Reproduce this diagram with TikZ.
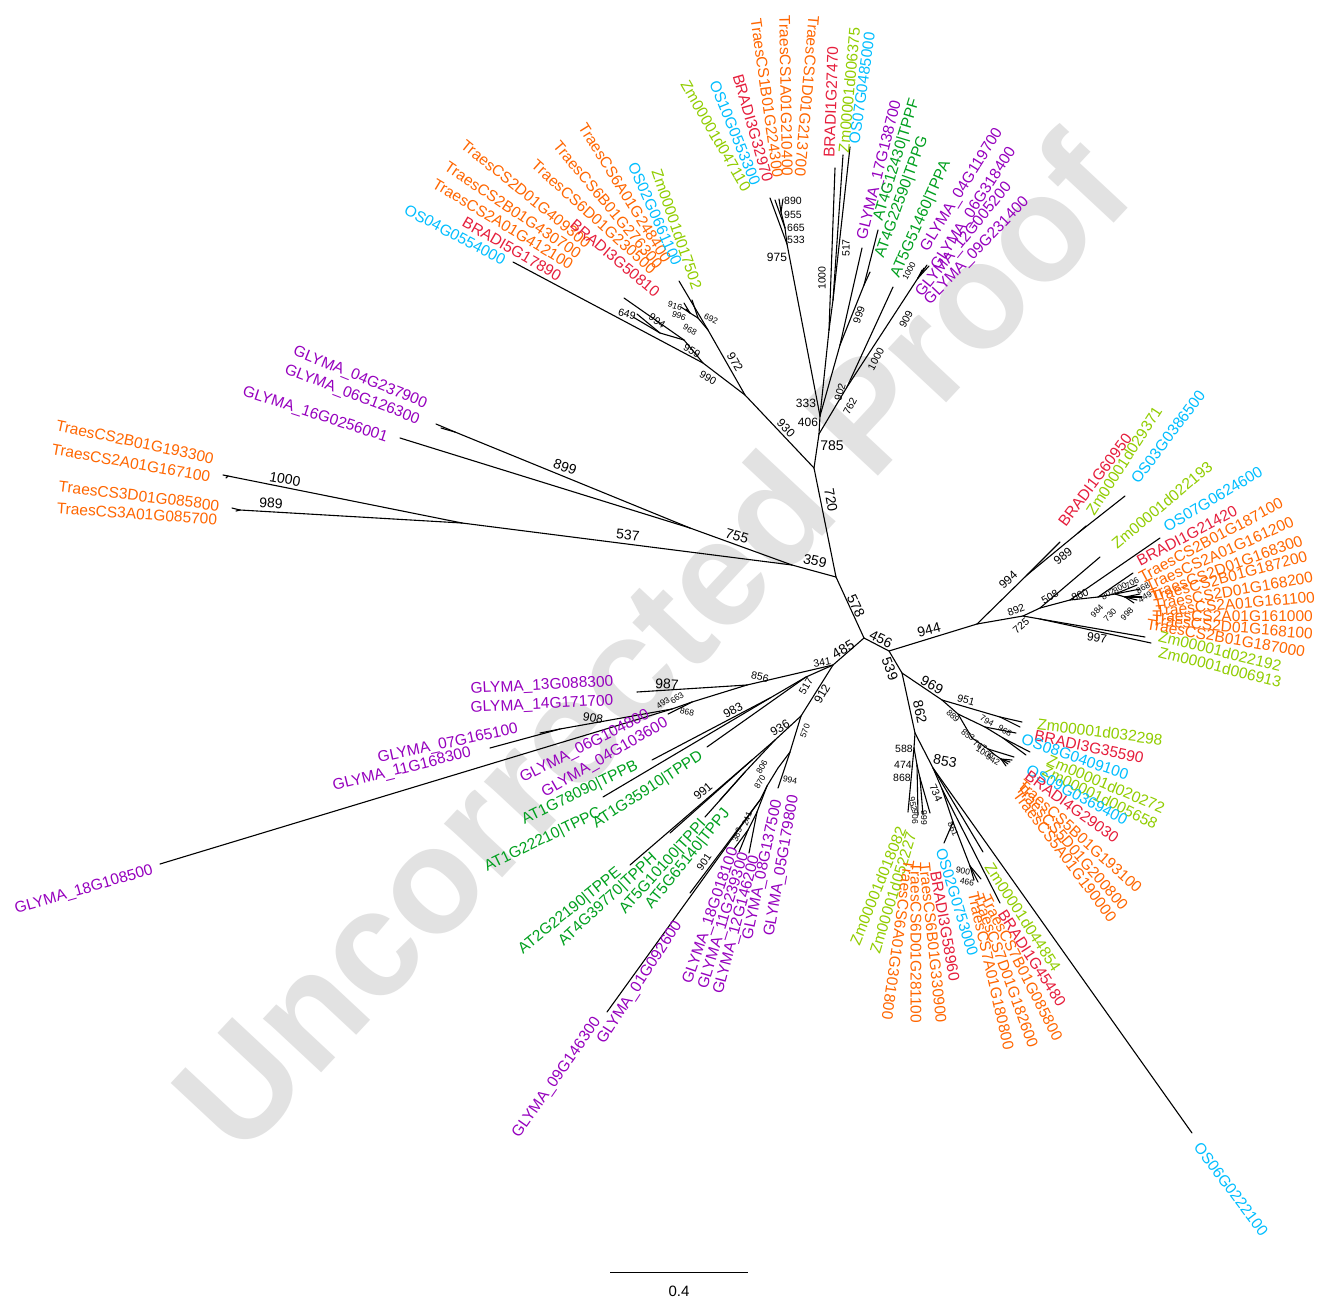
\documentclass[tikz,border=0pt]{standalone}
\usepackage{fontspec}
\setmainfont{Liberation Sans}
\definecolor{cTr}{RGB}{255,102,0}
\definecolor{cBr}{RGB}{230,30,60}
\definecolor{cOs}{RGB}{0,190,255}
\definecolor{cZm}{RGB}{145,205,0}
\definecolor{cAt}{RGB}{0,160,30}
\definecolor{cGm}{RGB}{150,0,190}
\definecolor{cWm}{RGB}{226,226,226}
\newcommand\TCn[3]{\coordinate (#1) at (#2,#3);}
\newcommand\TLb[6]{\node[lab,text=#5,rotate=#4] (#1) at (#2,#3) {#6};}
\newcommand\TLbE[5]{\node[lab,text=cTr,rotate=#4,anchor=east] (#1) at (#2,#3) {#5};}
\newcommand\TBs[6]{\node[#5,rotate=#4] (#1) at (#2,#3) {#6};}
\begin{document}
\begin{tikzpicture}[x=1pt,y=-1pt,
  lab/.style={inner sep=0pt,font=\fontsize{15.5}{15.5}\selectfont},
  bL/.style={inner sep=0pt,font=\fontsize{14}{14}\selectfont},
  bM/.style={inner sep=0pt,font=\fontsize{12}{12}\selectfont},
  bS/.style={inner sep=0pt,font=\fontsize{10.5}{10.5}\selectfont},
  bT/.style={inner sep=0pt,font=\fontsize{8.5}{8.5}\selectfont},
  br/.style={line width=1.1pt,line cap=round},
  wm/.style={inner sep=0pt,text=cWm,font=\fontsize{150}{150}\selectfont\bfseries}]
\fill[white] (0,0) rectangle (1318,1299);
\useasboundingbox (0,0) rectangle (1318,1299);
\node[wm,rotate=47] (wmk) at (650,642) {Uncorrected Proof};
% ---------- coordinates ----------
\TCn{A}{864}{638}\TCn{B}{836}{577}\TCn{C}{814}{468}\TCn{D}{819}{434}\TCn{E}{820}{416}
\TCn{F}{745}{395}\TCn{n456}{889}{651}\TCn{n944}{977}{624}\TCn{n539}{902}{673}\TCn{n485}{833}{665}
% top-left
\TCn{n990}{703}{363}\TCn{n959}{684}{340}\TCn{tOS04}{513}{262}\TCn{tTL1}{624}{298}
\TCn{n994a}{660}{333}\TCn{tTL2}{633}{317}\TCn{tTL3}{637}{314}
\TCn{n972}{708}{330}\TCn{tZm175}{679}{281}\TCn{n968a}{698}{318}\TCn{tOS026}{692}{300}
\TCn{n996}{690}{313}\TCn{tTL4}{684}{303}\TCn{tTL5}{681}{307}\TCn{tTL6}{686}{309}
% top
\TCn{n975}{787}{244}\TCn{tT1}{770}{198}\TCn{n665}{785}{228}\TCn{tT2}{775}{200}
\TCn{n890}{781}{212}\TCn{tT3}{779}{199}\TCn{tT4}{783}{199}
\TCn{n1000a}{829}{330}\TCn{tBR1a}{835}{168}\TCn{n517a}{833}{300}\TCn{tZm063}{843}{155}\TCn{tOS074}{850}{147}
\TCn{n902}{840}{345}\TCn{tG17}{862}{248}\TCn{n999}{864}{285}\TCn{tTPPF}{878}{230}\TCn{tTPPG}{870}{272}
\TCn{n762}{847}{387}\TCn{tTPPA}{893}{287}\TCn{n909}{918}{278}
\TCn{tw1}{924}{268}\TCn{tw2}{927}{265}\TCn{tw3}{922}{270}\TCn{tw4}{929}{266}
% left
\TCn{n359}{792}{565}\TCn{n755}{690}{528}\TCn{n899}{455}{432}\TCn{tG04}{436}{424}\TCn{tG06}{441}{428}\TCn{tG16}{400}{438}
\TCn{n537}{462}{523}\TCn{n1000b}{228}{476}\TCn{tTr2B}{223}{475}\TCn{tTr2A}{226}{478}
\TCn{n989b}{240}{510}\TCn{tTr3D}{232}{508}\TCn{tTr3A}{236}{511}
% lower-left
\TCn{n856}{747}{685}\TCn{n663}{692}{702}\TCn{n493}{672}{709}\TCn{t13}{637}{692}\TCn{t18}{160}{864}
\TCn{n908}{560}{729}\TCn{t07}{540}{733}\TCn{t11}{490}{748}\TCn{t0604}{668}{714}
\TCn{n517b}{806}{677}\TCn{n983}{770}{698}\TCn{tTPPB}{652}{760}\TCn{tTPPC}{603}{797}\TCn{tTPPD}{707}{747}
\TCn{n912}{801}{716}\TCn{n936}{775}{740}\TCn{n991}{752}{760}\TCn{tTPPE}{630}{865}\TCn{tTPPH}{670}{833}
\TCn{nIJ}{745}{772}\TCn{tTPPI}{705}{817}\TCn{tTPPJ}{720}{800}
\TCn{n570}{790}{752}\TCn{t0805}{778}{788}\TCn{n806}{778}{768}\TCn{n870}{767}{786}\TCn{n241}{757}{812}
\TCn{n383}{748}{830}\TCn{tGa}{734}{849}\TCn{tGb}{739}{852}\TCn{tGc}{749}{853}
\TCn{n901}{760}{800}\TCn{t09}{607}{1012}\TCn{t01}{690}{893}
% right
\TCn{n994c}{1027}{575}\TCn{tBR609}{1060}{542}\TCn{n989c}{1078}{533}\TCn{tZm293}{1086}{526}\TCn{tOS038}{1125}{496}
\TCn{n892}{1023}{616}\TCn{n997}{1040}{619}\TCn{tZm2192}{1145}{637}\TCn{tZm6913}{1151}{643}
\TCn{n508}{1040}{608}\TCn{tZm2193}{1100}{557}\TCn{n860}{1070}{600}\TCn{tOS076}{1160}{538}
\TCn{n802}{1098}{597}\TCn{tBR214}{1133}{573}\TCn{n800}{1115}{594}\TCn{tq1}{1137}{585}\TCn{tq2}{1140}{589}
\TCn{n706}{1125}{597}\TCn{tq3}{1140}{594}\TCn{tq4}{1137}{600}\TCn{tq5}{1134}{603}\TCn{tq6}{1142}{597}
% lower-right
\TCn{n969}{942}{700}\TCn{n951}{1000}{717}\TCn{tZm322}{1022}{722}\TCn{tBR355}{1020}{727}
\TCn{n889}{958}{714}\TCn{n794}{985}{727}\TCn{tOS08}{1016}{733}\TCn{n968c}{1003}{738}\TCn{tZm202}{1030}{752}\TCn{tZm056}{1026}{755}
\TCn{n853c}{972}{738}\TCn{n767}{988}{749}\TCn{tOS09}{1014}{757}\TCn{n1000c}{995}{755}\TCn{n942}{1001}{759}
\TCn{tBR4}{1012}{760}\TCn{tT5B}{1010}{762}\TCn{tT5D}{1008}{764}\TCn{tT5A}{1006}{766}
\TCn{n862}{915}{733}\TCn{n588}{914}{748}\TCn{tA6}{908}{812}\TCn{n474}{917}{765}\TCn{tB6}{918}{815}
\TCn{n868c}{920}{778}\TCn{tC6}{923}{815}\TCn{tD6}{930}{813}
\TCn{n853}{933}{768}\TCn{tOS06}{1192}{1133}\TCn{tZm448}{983}{852}\TCn{n734}{942}{789}\TCn{tBR454}{1000}{903}
\TCn{n861}{953}{822}\TCn{n900}{970}{866}\TCn{tT7A}{974}{880}\TCn{tT7D}{978}{882}\TCn{tT7B}{981}{879}\TCn{tOS02}{944}{843}
% scale bar
\TCn{sb1}{610}{1272}\TCn{sb2}{748}{1272}
% ---------- branches ----------
\foreach \a/\b in {A/B,B/C,C/D,D/E,C/F,A/n456,n456/n944,n456/n539,A/n485,
 F/n990,n990/tOS04,n990/n959,n959/tTL1,n959/n994a,n994a/tTL2,n994a/tTL3,
 F/n972,n972/tZm175,n972/n968a,n968a/tOS026,n968a/n996,n996/tTL4,n996/tTL5,n996/tTL6,
 E/n975,n975/tT1,n975/n665,n665/tT2,n665/n890,n890/tT3,n890/tT4,
 E/n1000a,n1000a/tBR1a,n1000a/n517a,n517a/tZm063,n517a/tOS074,
 E/n902,n902/tG17,n902/n999,n999/tTPPF,n999/tTPPG,
 D/n762,n762/tTPPA,n762/n909,n909/tw1,n909/tw2,n909/tw3,n909/tw4,
 B/n359,n359/n755,n755/n899,n899/tG04,n899/tG06,n755/tG16,n359/n537,n537/n1000b,n1000b/tTr2B,n1000b/tTr2A,n537/n989b,n989b/tTr3D,n989b/tTr3A,
 n485/n856,n856/t13,n856/n663,n663/n493,n493/t18,n493/n908,n908/t07,n908/t11,n663/t0604,
 n485/n517b,n517b/n983,n983/tTPPB,n983/tTPPC,n517b/tTPPD,
 n485/n912,n912/n936,n936/n991,n991/tTPPE,n991/tTPPH,n936/nIJ,nIJ/tTPPI,nIJ/tTPPJ,
 n912/n570,n570/t0805,n570/n806,n806/n870,n870/n241,n241/n383,n383/tGa,n383/tGb,n241/tGc,n870/n901,n901/t09,n901/t01,
 n944/n994c,n994c/tBR609,n994c/n989c,n989c/tZm293,n989c/tOS038,
 n944/n892,n892/n997,n997/tZm2192,n997/tZm6913,n892/n508,n508/tZm2193,n508/n860,n860/tOS076,n860/n802,n802/tBR214,n802/n800,n800/tq1,n800/tq2,n800/n706,n706/tq3,n706/tq4,n706/tq5,n706/tq6,
 n539/n969,n969/n951,n951/tZm322,n951/tBR355,n969/n889,n889/n794,n794/tOS08,n794/n968c,n968c/tZm202,n968c/tZm056,n889/n853c,n853c/n767,n767/tOS09,n767/n1000c,n1000c/n942,n942/tBR4,n942/tT5B,n942/tT5D,n942/tT5A,
 n539/n862,n862/n588,n588/tA6,n588/n474,n474/tB6,n474/n868c,n868c/tC6,n868c/tD6,
 n862/n853,n853/tOS06,n853/tZm448,n853/n734,n734/tBR454,n734/n861,n861/n900,n900/tT7A,n900/tT7D,n900/tT7B,n861/tOS02}
 \draw[br] (\a) -- (\b);
\draw[line width=1pt] (sb1) -- (sb2);
\node[inner sep=0pt,font=\fontsize{15}{15}\selectfont] (sbl) at (679,1291) {0.4};
% ---------- tip labels ----------
\TLb{l1}{455}{235}{-28}{cOs}{OS04G0554000}
\TLb{l2}{512}{249}{-30}{cBr}{BRADI5G17890}
\TLb{l3}{503}{224}{-31}{cTr}{TraesCS2A01G412100}
\TLb{l4}{513}{210}{-34}{cTr}{TraesCS2B01G430700}
\TLb{l5}{526}{194}{-39}{cTr}{TraesCS2D01G409300}
\TLb{l6}{594}{217}{-42}{cTr}{TraesCS6D01G230500}
\TLb{l7}{615}{258}{-40}{cBr}{BRADI3G50810}
\TLb{l8}{608}{205}{-50}{cTr}{TraesCS6B01G276300}
\TLb{l9}{625}{193}{-58}{cTr}{TraesCS6A01G248400}
\TLb{l10}{655}{214}{-66}{cOs}{OS02G0661100}
\TLb{l11}{677}{229}{-71}{cZm}{Zm00001d017502}
\TLb{l12}{716}{136}{-60}{cZm}{Zm00001d047110}
\TLb{l13}{735}{133}{-68}{cOs}{OS10G0553300}
\TLb{l14}{753}{128}{-74}{cBr}{BRADI3G32970}
\TLb{l15}{767}{98}{-82}{cTr}{TraesCS1B01G224300}
\TLb{l16}{786}{96}{-89}{cTr}{TraesCS1A01G210400}
\TLb{l17}{807}{96}{-95}{cTr}{TraesCS1D01G213700}
\TLb{l18}{831}{102}{88}{cBr}{BRADI1G27470}
\TLb{l19}{849}{90}{85}{cZm}{Zm00001d006375}
\TLb{l20}{862}{88}{82}{cOs}{OS07G0485000}
\TLb{l21}{880}{170}{76}{cGm}{GLYMA\_17G138700}
\TLb{l22}{897}{160}{73}{cAt}{AT4G12430|TPPF}
\TLb{l23}{902}{197}{70}{cAt}{AT4G22590|TPPG}
\TLb{l24}{921}{219}{66}{cAt}{AT5G51460|TPPA}
\TLb{l25}{962}{190}{58}{cGm}{GLYMA\_04G119700}
\TLb{l26}{974}{209}{57}{cGm}{GLYMA\_06G318400}
\TLb{l27}{964}{240}{51}{cGm}{GLYMA\_12G005200}
\TLb{l28}{977}{251}{46}{cGm}{GLYMA\_09G231400}
\TLb{l29}{360}{378}{-22}{cGm}{GLYMA\_04G237900}
\TLb{l30}{352}{395}{-21}{cGm}{GLYMA\_06G126300}
\TLb{l31}{315}{415}{-18}{cGm}{GLYMA\_16G0256001}
\TLb{l32}{135}{442}{-12}{cTr}{TraesCS2B01G193300}
\TLb{l33}{131}{463}{-10}{cTr}{TraesCS2A01G167100}
\TLb{l34}{139}{496}{-7}{cTr}{TraesCS3D01G085800}
\TLb{l35}{137}{514}{-4}{cTr}{TraesCS3A01G085700}
\TLb{l36}{542}{686}{3}{cGm}{GLYMA\_13G088300}
\TLb{l37}{542}{705}{3}{cGm}{GLYMA\_14G171700}
\TLb{l38}{448}{744}{12}{cGm}{GLYMA\_07G165100}
\TLb{l39}{402}{770}{14}{cGm}{GLYMA\_11G168300}
\TLb{l40}{84}{890}{16}{cGm}{GLYMA\_18G108500}
\TLb{l41}{585}{747}{27}{cGm}{GLYMA\_06G104800}
\TLb{l42}{605}{758}{30}{cGm}{GLYMA\_04G103600}
\TLb{l43}{580}{793}{26}{cAt}{AT1G78090|TPPB}
\TLb{l44}{543}{840}{26}{cAt}{AT1G22210|TPPC}
\TLb{l45}{648}{790}{33}{cAt}{AT1G35910|TPPD}
\TLb{l46}{570}{911}{39}{cAt}{AT2G22190|TPPE}
\TLb{l47}{608}{900}{43}{cAt}{AT4G39770|TPPH}
\TLb{l48}{663}{867}{48}{cAt}{AT5G10100|TPPI}
\TLb{l49}{688}{859}{51}{cAt}{AT5G65140|TPPJ}
\TLb{l50}{557}{1078}{55}{cGm}{GLYMA\_09G146300}
\TLb{l51}{640}{983}{57}{cGm}{GLYMA\_01G092600}
\TLb{l52}{711}{916}{71}{cGm}{GLYMA\_18G018100}
\TLb{l53}{724}{921}{73}{cGm}{GLYMA\_11G239300}
\TLb{l54}{737}{925}{75}{cGm}{GLYMA\_12G146200}
\TLb{l55}{763}{870}{78}{cGm}{GLYMA\_08G137500}
\TLb{l56}{782}{866}{80}{cGm}{GLYMA\_05G179800}
\TLb{l57}{1095}{480}{53}{cBr}{BRADI1G60950}
\TLb{l58}{1124}{461}{57}{cZm}{Zm00001d029371}
\TLb{l59}{1168}{437}{53}{cOs}{OS03G0386500}
\TLb{l60}{1162}{505}{40}{cZm}{Zm00001d022193}
\TLb{l61}{1213}{499}{31}{cOs}{OS07G0624600}
\TLb{l62}{1187}{536}{28}{cBr}{BRADI1G21420}
\TLbE{l63}{1282}{502}{28}{TraesCS2B01G187100}
\TLbE{l64}{1293}{521}{24}{TraesCS2A01G161200}
\TLbE{l65}{1302}{540}{20}{TraesCS2D01G168300}
\TLbE{l66}{1307}{556}{15}{TraesCS2B01G187200}
\TLbE{l67}{1313}{577}{10}{TraesCS2D01G168200}
\TLbE{l68}{1315}{597}{5}{TraesCS2A01G161100}
\TLbE{l69}{1313}{616}{0}{TraesCS2A01G161000}
\TLbE{l70}{1313}{634}{-5}{TraesCS2D01G168100}
\TLbE{l71}{1305}{652}{-10}{TraesCS2B01G187000}
\TLb{l72}{1220}{651}{-14}{cZm}{Zm00001d022192}
\TLb{l73}{1220}{667}{-14}{cZm}{Zm00001d006913}
\TLb{l74}{1100}{732}{-7}{cZm}{Zm00001d032298}
\TLb{l75}{1089}{747}{-12}{cBr}{BRADI3G35590}
\TLb{l76}{1075}{757}{-19}{cOs}{OS08G0409100}
\TLb{l77}{1106}{784}{-23}{cZm}{Zm00001d020272}
\TLb{l78}{1100}{797}{-26}{cZm}{Zm00001d005658}
\TLb{l79}{1077}{795}{-28}{cOs}{OS09G0369400}
\TLb{l80}{1072}{807}{-36}{cBr}{BRADI4G29030}
\TLb{l81}{1080}{836}{-42}{cTr}{TraesCS5B01G193100}
\TLb{l82}{1072}{847}{-49}{cTr}{TraesCS5D01G200800}
\TLb{l83}{1065}{856}{-53}{cTr}{TraesCS5A01G190000}
\TLb{l84}{878}{886}{68}{cZm}{Zm00001d018082}
\TLb{l85}{893}{893}{73}{cZm}{Zm00001d052227}
\TLb{l86}{898}{940}{-98}{cTr}{TraesCS6A01G301800}
\TLb{l87}{916}{943}{-90}{cTr}{TraesCS6D01G281100}
\TLb{l88}{933}{943}{-84}{cTr}{TraesCS6B01G330900}
\TLb{l89}{945}{926}{-80}{cBr}{BRADI3G58960}
\TLb{l90}{957}{902}{-73}{cOs}{OS02G0753000}
\TLb{l91}{991}{971}{-77}{cTr}{TraesCS7A01G180800}
\TLb{l92}{1006}{971}{-70}{cTr}{TraesCS7D01G182600}
\TLb{l93}{1022}{968}{-63}{cTr}{TraesCS7B01G085800}
\TLb{l94}{1032}{958}{-57}{cBr}{BRADI1G45480}
\TLb{l95}{1023}{917}{-57}{cZm}{Zm00001d044854}
\TLb{l96}{1231}{1189}{-53}{cOs}{OS06G0222100}
% ---------- bootstrap values ----------
\TBs{b1}{856}{606}{-65}{bL}{578}
\TBs{b2}{831}{500}{-80}{bL}{720}
\TBs{b3}{832}{446}{0}{bL}{785}
\TBs{b4}{808}{422}{0}{bM}{406}
\TBs{b5}{806}{403}{0}{bM}{333}
\TBs{b6}{786}{428}{-47}{bM}{930}
\TBs{b7}{815}{561}{-12}{bL}{359}
\TBs{b8}{737}{536}{-17}{bL}{755}
\TBs{b9}{565}{467}{-20}{bL}{899}
\TBs{b10}{628}{535}{-5}{bL}{537}
\TBs{b11}{285}{479}{-10}{bL}{1000}
\TBs{b12}{271}{503}{-3}{bL}{989}
\TBs{b13}{881}{639}{-25}{bL}{456}
\TBs{b14}{929}{630}{15}{bL}{944}
\TBs{b15}{890}{669}{-70}{bL}{539}
\TBs{b16}{843}{649}{30}{bL}{485}
\TBs{b17}{822}{662}{10}{bS}{341}
\TBs{b18}{708}{378}{-30}{bS}{990}
\TBs{b19}{692}{351}{-30}{bS}{959}
\TBs{b20}{627}{314}{-15}{bS}{649}
\TBs{b21}{657}{321}{-35}{bS}{994}
\TBs{b22}{675}{306}{-15}{bT}{916}
\TBs{b23}{679}{316}{-20}{bT}{996}
\TBs{b24}{690}{330}{-30}{bT}{968}
\TBs{b25}{711}{319}{-25}{bT}{692}
\TBs{b26}{735}{362}{-60}{bM}{972}
\TBs{b27}{777}{257}{0}{bM}{975}
\TBs{b28}{793}{201}{0}{bS}{890}
\TBs{b29}{793}{215}{0}{bS}{955}
\TBs{b30}{796}{228}{0}{bS}{665}
\TBs{b31}{796}{240}{0}{bS}{533}
\TBs{b32}{822}{278}{90}{bS}{1000}
\TBs{b33}{846}{248}{90}{bS}{517}
\TBs{b34}{859}{315}{72}{bS}{999}
\TBs{b35}{840}{392}{75}{bS}{902}
\TBs{b36}{850}{406}{62}{bS}{762}
\TBs{b37}{876}{359}{62}{bS}{1000}
\TBs{b38}{906}{319}{62}{bS}{909}
\TBs{b39}{909}{271}{62}{bT}{1000}
\TBs{b40}{760}{677}{-12}{bS}{856}
\TBs{b41}{667}{684}{-3}{bL}{987}
\TBs{b42}{663}{703}{35}{bT}{493}
\TBs{b43}{677}{698}{35}{bT}{663}
\TBs{b44}{687}{712}{-10}{bT}{868}
\TBs{b45}{593}{718}{-10}{bM}{908}
\TBs{b46}{806}{686}{60}{bS}{517}
\TBs{b47}{733}{710}{28}{bM}{983}
\TBs{b48}{822}{694}{60}{bM}{912}
\TBs{b49}{780}{728}{30}{bM}{936}
\TBs{b50}{805}{731}{70}{bT}{570}
\TBs{b51}{703}{791}{40}{bM}{991}
\TBs{b52}{762}{767}{60}{bT}{806}
\TBs{b53}{760}{782}{60}{bT}{870}
\TBs{b54}{747}{819}{70}{bT}{241}
\TBs{b55}{737}{835}{70}{bT}{383}
\TBs{b56}{704}{862}{55}{bS}{901}
\TBs{b57}{790}{780}{-10}{bT}{994}
\TBs{b58}{1008}{580}{43}{bM}{994}
\TBs{b59}{1063}{556}{40}{bM}{989}
\TBs{b60}{1016}{610}{20}{bS}{892}
\TBs{b61}{1021}{626}{40}{bS}{725}
\TBs{b62}{1097}{638}{-8}{bM}{997}
\TBs{b63}{1050}{597}{30}{bS}{508}
\TBs{b64}{1080}{595}{25}{bS}{860}
\TBs{b65}{1108}{594}{30}{bT}{802}
\TBs{b66}{1120}{588}{30}{bT}{800}
\TBs{b67}{1132}{583}{30}{bT}{706}
\TBs{b68}{1097}{611}{45}{bT}{984}
\TBs{b69}{1110}{615}{45}{bT}{730}
\TBs{b70}{1127}{614}{45}{bT}{998}
\TBs{b71}{1143}{588}{30}{bT}{868}
\TBs{b72}{1145}{597}{30}{bT}{449}
\TBs{b73}{932}{685}{-28}{bL}{969}
\TBs{b74}{966}{700}{-15}{bS}{951}
\TBs{b75}{953}{716}{-45}{bT}{889}
\TBs{b76}{987}{721}{-30}{bT}{794}
\TBs{b77}{1005}{731}{-30}{bT}{968}
\TBs{b78}{968}{735}{-35}{bT}{853}
\TBs{b79}{980}{746}{-30}{bT}{767}
\TBs{b80}{985}{753}{-30}{bT}{1000}
\TBs{b81}{993}{760}{-30}{bT}{942}
\TBs{b82}{920}{712}{-78}{bL}{862}
\TBs{b83}{945}{761}{-10}{bL}{853}
\TBs{b84}{904}{749}{0}{bS}{588}
\TBs{b85}{903}{765}{0}{bS}{474}
\TBs{b86}{902}{778}{0}{bS}{868}
\TBs{b87}{913}{804}{-80}{bT}{952}
\TBs{b88}{915}{817}{-90}{bT}{906}
\TBs{b89}{924}{818}{-90}{bT}{999}
\TBs{b90}{936}{793}{-65}{bS}{734}
\TBs{b91}{953}{829}{-65}{bT}{861}
\TBs{b92}{963}{871}{-10}{bT}{900}
\TBs{b93}{967}{882}{-10}{bT}{466}
\end{tikzpicture}
\end{document}
